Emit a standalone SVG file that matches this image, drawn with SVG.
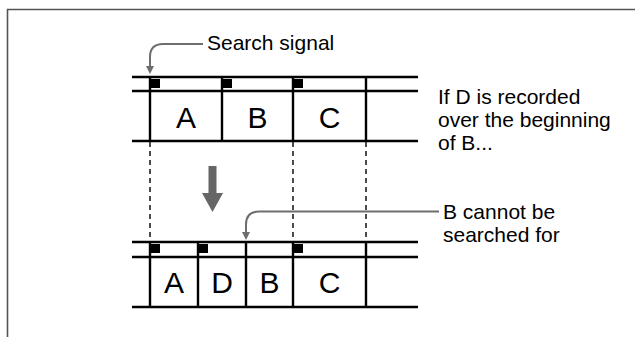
<svg xmlns="http://www.w3.org/2000/svg" width="635" height="337" viewBox="0 0 635 337">
<style>
.frame{fill:none;stroke:#555;stroke-width:1.6}
.tape{fill:none;stroke:#000;stroke-width:2.4}
.dash{fill:none;stroke:#000;stroke-width:1.4;stroke-dasharray:5,4}
.sig{fill:#000}
.cell{font-family:"Liberation Sans",Arial,sans-serif;font-size:30px;fill:#000;text-anchor:middle}
.lbl{font-family:"Liberation Sans",Arial,sans-serif;font-size:21px;fill:#000}
.call{fill:none;stroke:#6e6e6e;stroke-width:2}
.callhead{fill:#6e6e6e}
.big{fill:#666}
</style>
<rect width="635" height="337" fill="#fff"/>
<path class="frame" d="M7.5,337 V9.5 H635"/>
<g id="tape-before">
<path class="tape" d="M132,77 H418 M132,91 H418 M132,141 H418 M150,77 V141 M222,77 V141 M293,77 V141 M366,77 V141"/>
<rect class="sig" x="151" y="79" width="9" height="9"/>
<rect class="sig" x="223" y="79" width="9" height="9"/>
<rect class="sig" x="294" y="79" width="9" height="9"/>
<text class="cell" x="186" y="128">A</text>
<text class="cell" x="257.5" y="128">B</text>
<text class="cell" x="329.5" y="128">C</text>
</g>
<g id="tape-after">
<path class="tape" d="M132,242 H418 M132,257 H418 M132,307 H418 M150,242 V307 M198,242 V307 M246,242 V307 M293,242 V307 M366,242 V307"/>
<rect class="sig" x="151" y="244" width="9" height="9"/>
<rect class="sig" x="199" y="244" width="9" height="9"/>
<rect class="sig" x="294" y="244" width="9" height="9"/>
<text class="cell" x="174" y="293">A</text>
<text class="cell" x="222" y="293">D</text>
<text class="cell" x="269.5" y="293">B</text>
<text class="cell" x="329.5" y="293">C</text>
</g>
<g id="big-arrow">
<path class="big" d="M208.5,166 H216.5 V193 H223 L212.5,212 L202,193 H208.5 Z"/>
</g>
<g id="connectors">
<path class="dash" d="M150,142 V242 M293,142 V242 M366,142 V242"/>
<path class="call" d="M203,44 H163 Q150,44 150,57 V67"/>
<polygon class="callhead" points="146,66 154,66 150,74"/>
<path class="call" d="M439,211.5 H259 Q246,211.5 246,224.5 V233"/>
<polygon class="callhead" points="242,232 250,232 246,240"/>
</g>
<g id="labels">
<text class="lbl" x="207" y="50">Search signal</text>
<text class="lbl" x="438" y="104">If D is recorded</text>
<text class="lbl" x="438" y="127">over the beginning</text>
<text class="lbl" x="438" y="150">of B...</text>
<text class="lbl" x="443" y="219">B cannot be</text>
<text class="lbl" x="443" y="242">searched for</text>
</g>
</svg>
